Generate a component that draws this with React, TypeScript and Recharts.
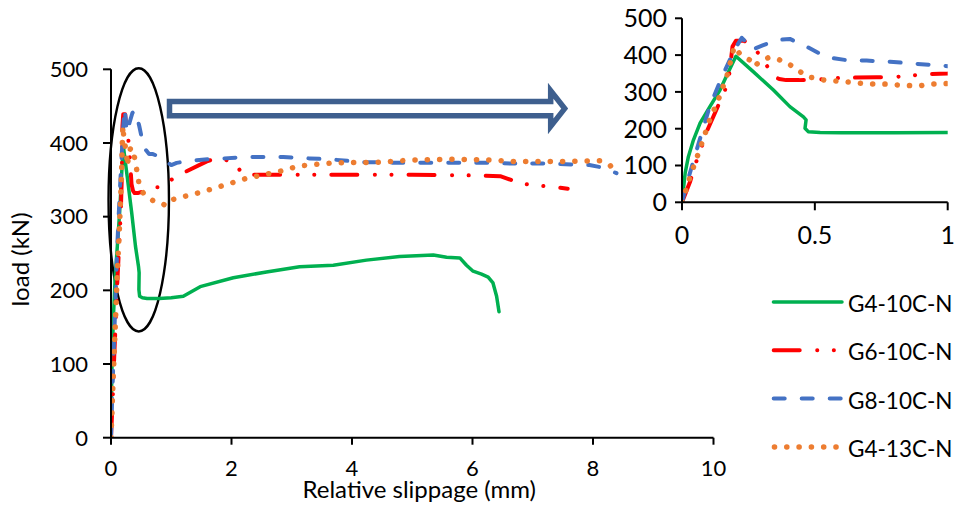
import React from 'react';
import { LineChart, Line, XAxis, YAxis, ReferenceArea, Legend, Label } from 'recharts';

const FONT = 'Lato, "Open Sans", sans-serif';

// Axis ticks
const MAIN_X_TICKS = [0, 2, 4, 6, 8, 10];
const MAIN_Y_TICKS = [0, 100, 200, 300, 400, 500];
const INSET_X_TICKS = [0, 0.5, 1];
const INSET_Y_TICKS = [0, 100, 200, 300, 400, 500];

// G4-10C-N : slip (mm) / load (kN)
const g410Slip = [0, 0.012, 0.024, 0.043, 0.068, 0.105, 0.143, 0.175, 0.203, 0.268, 0.344, 0.406, 0.457, 0.467, 0.463, 0.475, 0.52, 0.6, 0.8, 1.0, 1.2, 1.48, 2.03, 2.58, 3.13, 3.69, 4.24, 4.79, 5.35, 5.57, 5.79, 5.9, 6.01, 6.15, 6.26, 6.34, 6.4, 6.44];
const g410Load = [0, 80, 124, 169, 215, 260, 305, 355, 397, 355, 305, 260, 232, 224, 201, 192, 190, 189, 189, 190, 192, 205, 217, 225, 232, 234, 241, 246, 248, 245, 244, 234, 226, 222, 218, 210, 192, 171];

// G6-10C-N
const g610Slip = [0, 0.03, 0.054, 0.073, 0.093, 0.137, 0.162, 0.178, 0.19, 0.203, 0.235, 0.248, 0.279, 0.31, 0.341, 0.366, 0.392, 0.442, 0.52, 0.594, 0.731, 0.794, 0.857, 0.919, 1.0, 1.14, 1.59, 1.8, 2.05, 2.2, 2.7, 3.2, 4.0, 5.0, 6.0, 6.46, 6.67, 6.75, 6.89, 7.36, 7.58];
const g610Load = [0, 55, 111, 148, 192, 264, 305, 349, 423, 439, 439, 427, 413, 383, 344, 335, 332, 332, 334, 338, 340, 340, 344, 348, 350, 357, 375, 381, 372, 357, 357, 357, 357, 357, 356, 355, 349, 351, 344, 340, 338];

// G8-10C-N
const g810Slip = [0, 0.02, 0.05, 0.105, 0.15, 0.2, 0.225, 0.245, 0.262, 0.306, 0.356, 0.406, 0.469, 0.544, 0.632, 0.695, 0.783, 0.87, 0.946, 1.0, 1.09, 1.3, 1.64, 2.3, 2.86, 3.3, 3.6, 4.2, 4.79, 5.5, 6.3, 6.7, 7.3, 7.94, 8.2, 8.39];
const g810Load = [0, 55, 130, 262, 340, 418, 447, 432, 414, 427, 441, 444, 423, 394, 385, 385, 382, 377, 373, 370, 373, 376, 378, 381, 381, 379, 378, 374, 373, 373, 373, 372, 372, 370, 366, 359];

// G4-13C-N
const g413Slip = [0, 0.035, 0.066, 0.104, 0.141, 0.172, 0.19, 0.197, 0.216, 0.254, 0.273, 0.285, 0.304, 0.329, 0.36, 0.398, 0.436, 0.473, 0.505, 0.536, 0.605, 0.649, 0.693, 0.781, 0.825, 0.893, 0.925, 0.968, 1.2, 1.53, 1.89, 2.25, 2.78, 3.13, 3.7, 4.5, 5.0, 5.7, 6.29, 6.67, 6.89, 7.5, 8.11, 8.28, 8.39];
const g413Load = [0, 79, 142, 223, 287, 350, 405, 423, 405, 387, 369, 378, 387, 394, 389, 378, 359, 341, 337, 332, 328, 325, 322, 321, 318, 316, 321, 322, 327, 334, 343, 352, 361, 369, 373, 374, 377, 378, 377, 375, 375, 375, 376, 370, 359];

const toPoints = (slip: number[], load: number[]) =>
  slip.map((s, i) => ({ slip: s, load: load[i] }));

type Series = {
  name: string;
  data: { slip: number; load: number }[];
  color: string;
  width: number;
  dash?: string;
};

const SERIES: Series[] = [
  { name: 'G4-10C-N', data: toPoints(g410Slip, g410Load), color: '#00B050', width: 3.5 },
  { name: 'G6-10C-N', data: toPoints(g610Slip, g610Load), color: '#FF0000', width: 4, dash: '26 17.5 0.1 16.5 0.1 17' },
  { name: 'G8-10C-N', data: toPoints(g810Slip, g810Load), color: '#4472C4', width: 4, dash: '11 17' },
  { name: 'G4-13C-N', data: toPoints(g413Slip, g413Load), color: '#ED7D31', width: 5.5, dash: '0.1 12.2' },
];

// Annotation extents, in data units of the main chart
const ELLIPSE = { x1: -0.041, x2: 0.962, y1: 144.2, y2: 501.4 };
const ARROW = { x1: 0.971, x2: 7.53, y1: 422.5, y2: 470.8 };

const EllipseShape = (props: any) => {
  const { x, y, width, height } = props;
  return (
    <ellipse
      cx={x + width / 2}
      cy={y + height / 2}
      rx={Math.abs(width) / 2}
      ry={Math.abs(height) / 2}
      fill="none"
      stroke="#000"
      strokeWidth={2.4}
    />
  );
};

const ArrowShape = (props: any) => {
  const { x, y, width, height } = props;
  const cy = y + height / 2;
  const half = 7.1;
  const head = 14;
  const xb = x + width - head;
  const pts = [
    [x, cy - half],
    [xb, cy - half],
    [xb, y],
    [x + width, cy],
    [xb, y + height],
    [xb, cy + half],
    [x, cy + half],
  ];
  return (
    <polygon
      points={pts.map((p) => p.join(',')).join(' ')}
      fill="#fff"
      stroke="#3E5F8E"
      strokeWidth={5.5}
      strokeLinejoin="miter"
    />
  );
};

const XTitle = (props: any) => {
  const { viewBox } = props;
  return (
    <text
      x={viewBox.x + viewBox.width / 2 + 7}
      y={viewBox.y + 60.5}
      textAnchor="middle"
      fontFamily={FONT}
      fontSize={24}
      fill="#000"
    >
      Relative slippage (mm)
    </text>
  );
};

const YTitle = (props: any) => {
  const { viewBox } = props;
  const cx = viewBox.x + 29;
  const cy = viewBox.y + viewBox.height / 2 + 6;
  return (
    <text
      x={cx}
      y={cy}
      transform={`rotate(-90 ${cx} ${cy})`}
      textAnchor="middle"
      fontFamily={FONT}
      fontSize={24}
      fill="#000"
    >
      load (kN)
    </text>
  );
};

const LegendBox = () => (
  <svg width={197} height={190}>
    {SERIES.map((s, i) => {
      const cy = 22 + i * 48.3;
      return (
        <g key={s.name}>
          <line
            x1={11.7 + s.width / 2}
            x2={82}
            y1={cy}
            y2={cy}
            stroke={s.color}
            strokeWidth={s.width}
            strokeDasharray={s.dash}
            strokeLinecap="round"
          />
          <text x={88} y={cy + 10} fontFamily={FONT} fontSize={22.5} fill="#000">
            {s.name}
          </text>
        </g>
      );
    })}
  </svg>
);

const axisStroke = { stroke: '#000', strokeWidth: 2 };

export default function App() {
  return (
    <div style={{ position: 'absolute', left: 0, top: 0, width: 957, height: 510, background: '#fff' }}>
      <div style={{ position: 'absolute', left: 0, top: 0 }}>
        <LineChart width={957} height={510} margin={{ top: 69.3, right: 243.5, bottom: 32.3, left: 0 }}>
          <XAxis
            type="number"
            dataKey="slip"
            domain={[0, 10]}
            ticks={MAIN_X_TICKS}
            allowDataOverflow
            height={40}
            axisLine={axisStroke}
            tickLine={axisStroke}
            tickSize={7}
            tickMargin={16}
            tick={{ fill: '#000', fontSize: 22, fontFamily: FONT }}
          >
            <Label content={XTitle} />
          </XAxis>
          <YAxis
            type="number"
            dataKey="load"
            domain={[0, 500]}
            ticks={MAIN_Y_TICKS}
            allowDataOverflow
            width={111}
            axisLine={axisStroke}
            tickLine={axisStroke}
            tickSize={8}
            tickMargin={15}
            tick={{ fill: '#000', fontSize: 22, fontFamily: FONT }}
          >
            <Label content={YTitle} />
          </YAxis>
          {SERIES.map((s) => (
            <Line
              key={s.name}
              name={s.name}
              data={s.data}
              dataKey="load"
              type="linear"
              stroke={s.color}
              strokeWidth={s.width}
              strokeDasharray={s.dash}
              strokeLinecap="round"
              strokeLinejoin="round"
              dot={false}
              activeDot={false}
              isAnimationActive={false}
            />
          ))}
          <ReferenceArea
            x1={ELLIPSE.x1}
            x2={ELLIPSE.x2}
            y1={ELLIPSE.y1}
            y2={ELLIPSE.y2}
            ifOverflow="visible"
            shape={EllipseShape}
          />
          <ReferenceArea
            x1={ARROW.x1}
            x2={ARROW.x2}
            y1={ARROW.y1}
            y2={ARROW.y2}
            ifOverflow="visible"
            shape={ArrowShape}
          />
          <Legend
            layout="vertical"
            align="center"
            verticalAlign="middle"
            wrapperStyle={{ left: 760, top: 280, width: 197, height: 190 }}
            content={LegendBox}
          />
        </LineChart>
      </div>
      <div style={{ position: 'absolute', left: 600, top: 0 }}>
        <LineChart width={357} height={250} margin={{ top: 18.3, right: 9.3, bottom: 7.7, left: 0 }}>
          <XAxis
            type="number"
            dataKey="slip"
            domain={[0, 1]}
            ticks={INSET_X_TICKS}
            allowDataOverflow
            height={40}
            axisLine={axisStroke}
            tickLine={axisStroke}
            tickSize={8}
            tickMargin={16}
            tick={{ fill: '#000', fontSize: 25, fontFamily: FONT }}
          />
          <YAxis
            type="number"
            dataKey="load"
            domain={[0, 500]}
            ticks={INSET_Y_TICKS}
            allowDataOverflow
            width={82}
            axisLine={axisStroke}
            tickLine={axisStroke}
            tickSize={7}
            tickMargin={8}
            tick={{ fill: '#000', fontSize: 25, fontFamily: FONT }}
          />
          {SERIES.map((s) => (
            <Line
              key={s.name}
              name={s.name}
              data={s.data}
              dataKey="load"
              type="linear"
              stroke={s.color}
              strokeWidth={s.width}
              strokeDasharray={s.dash}
              strokeLinecap="round"
              strokeLinejoin="round"
              dot={false}
              activeDot={false}
              isAnimationActive={false}
            />
          ))}
        </LineChart>
      </div>
    </div>
  );
}
